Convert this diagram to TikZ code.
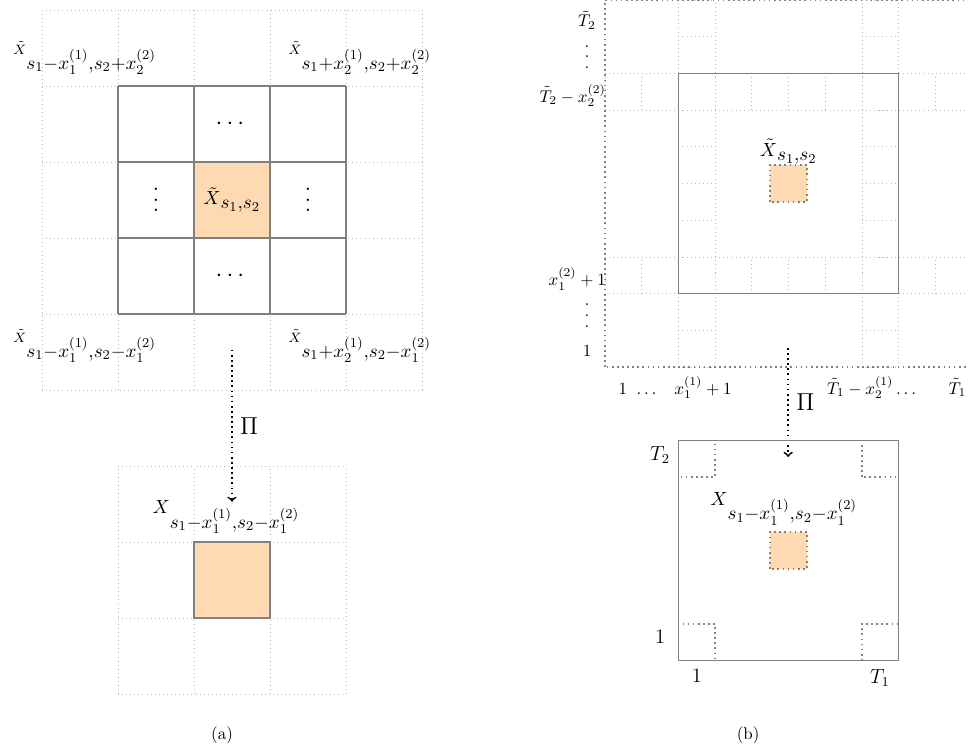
\RequirePackage{fix-cm}
\documentclass[tikz,border=0pt]{standalone}
\usepackage{amsmath}
\newcommand{\tallvdots}{\vbox{\baselineskip6.3pt\lineskiplimit0pt\hbox{.}\hbox{.}\hbox{.}}}
\newcommand{\lowsub}{\rule{0pt}{14.3pt}}
\begin{document}
\begin{tikzpicture}[
  lightgrid/.style={draw=gray!55, dotted, line width=0.4pt},
  solidgrid/.style={draw=gray, line width=1pt},
  heavydots/.style={draw=gray, dotted, line width=1pt},
  cellfill/.style={fill=orange!30},
  proj/.style={->, dotted, line width=1pt},
  biglabel/.style={font=\Large},
  mathlabel/.style={font=\fontsize{16}{19}\selectfont},
  sublabel/.style={mathlabel, inner sep=0pt, anchor=base west},
  axlabel/.style={font=\normalsize, inner sep=1pt}
]
  \useasboundingbox (0, 0) rectangle (20, -15.558);

  % (a) extended window
  \begin{scope}[shift={(0.868cm, -8.058cm)}, x=1.57cm, y=1.57cm]
    \fill[cellfill] (2, 2) rectangle (3, 3);
    \draw[lightgrid, step=1] (0, 0) grid (5, 5);
    \draw[solidgrid, step=1] (1, 1) grid (4, 4);
    \draw (2.5, 2.5) node[mathlabel, anchor=center] (xa) {${\scriptstyle\tilde{X}}_{s_1,s_2}$};
    \draw (2.5, 3.5) node[biglabel, anchor=center] (dotsa1) {$\cdots$};
    \draw (2.5, 1.5) node[biglabel, anchor=center] (dotsa2) {$\cdots$};
    \draw (1.5, 2.5) node[biglabel, anchor=center] (vdotsa1) {\tallvdots};
    \draw (3.5, 2.5) node[biglabel, anchor=center] (vdotsa2) {\tallvdots};

    % corner labels
    \draw (-0.38, 4.42) node[sublabel] (tl) {${\scriptscriptstyle\tilde{X}}_{\lowsub s_1-x_1^{(1)},s_2+x_2^{(2)}}$};
    \draw (3.24, 4.42) node[sublabel] (tr) {${\scriptscriptstyle\tilde{X}}_{\lowsub s_1+x_2^{(1)},s_2+x_2^{(2)}}$};
    \draw (-0.38, 0.63) node[sublabel] (bl) {${\scriptscriptstyle\tilde{X}}_{\lowsub s_1-x_1^{(1)},s_2-x_1^{(2)}}$};
    \draw (3.24, 0.63) node[sublabel] (br) {${\scriptscriptstyle\tilde{X}}_{\lowsub s_1+x_2^{(1)},s_2-x_1^{(2)}}$};

    % projection
    \coordinate (pia1) at (2.5, 0.53);
    \coordinate (pia2) at (2.5, -1.47);
    \draw[proj] (pia1) -- node[right=1pt, biglabel] (pia) {$\Pi$} (pia2);

    % (a) projected window
    \draw[lightgrid, step=1] (1, -4) grid (4, -1);
    \draw[cellfill, solidgrid] (2, -3) rectangle (3, -2);
    \draw (1.45, -1.62) node[sublabel] (xpa) {${\scriptstyle X}_{\lowsub s_1-x_1^{(1)},s_2-x_1^{(2)}}$};

    \draw (2.37, -4.54) node[anchor=center] (capa) {(a)};
  \end{scope}

  % (b) whole extended series
  \begin{scope}[shift={(12.50cm, -7.583cm)}, x=0.7583cm, y=0.7583cm]
    \draw[lightgrid, step=1] (0, 2) grid (10, 3);
    \draw[lightgrid, step=1] (0, 7) grid (10, 8);
    \draw[lightgrid, step=1] (2, 0) grid (3, 10);
    \draw[lightgrid, step=1] (7, 0) grid (8, 10);
    \draw[heavydots] (0, 0) rectangle (10, 10);
    \draw[solidgrid] (2, 2) rectangle (8, 8);
    \draw[cellfill, heavydots] (4.5, 4.5) rectangle (5.5, 5.5);
    \draw (5, 5.86) node[mathlabel, anchor=center] (xb) {${\scriptstyle\tilde{X}}_{s_1,s_2}$};

    % axis labels
    \draw (-0.49, 9.45) node[axlabel] (t2) {$\tilde{T}_2$};
    \draw (-0.49, 8.45) node[axlabel] (vd1) {\tallvdots};
    \draw (0.08, 7.4) node[axlabel, anchor=east] (t2x) {$\tilde{T}_2 - x_2^{(2)}$};
    \draw (0.08, 2.4) node[axlabel, anchor=east] (x2p) {$x_1^{(2)} + 1$};
    \draw (-0.49, 1.4) node[axlabel] (vd2) {\tallvdots};
    \draw (-0.49, 0.44) node[axlabel] (one2) {$1$};
    \draw (0.49, -0.74) node[axlabel, anchor=base] (one1) {$1$};
    \draw (1.17, -0.74) node[axlabel, anchor=base] (dd1) {$\dots$};
    \draw (2.67, -0.74) node[axlabel, anchor=base] (x1p) {$x_1^{(1)} + 1$};
    \draw (7.3, -0.74) node[axlabel, anchor=base] (t1x) {$\tilde{T}_1 - x_2^{(1)}\dots$};
    \draw (9.6, -0.74) node[axlabel, anchor=base] (t1) {$\tilde{T}_1$};

    % projection
    \coordinate (pib1) at (4.99, 0.52);
    \coordinate (pib2) at (4.99, -2.45);
    \draw[proj] (pib1) -- node[right=1pt, biglabel] (pib) {$\Pi$} (pib2);

    % (b) original series
    \draw[solidgrid] (2, -8) rectangle (8, -2);
    \draw[heavydots] (2, -3) rectangle (3, -2);
    \draw[heavydots] (7, -3) rectangle (8, -2);
    \draw[heavydots] (2, -8) rectangle (3, -7);
    \draw[heavydots] (7, -8) rectangle (8, -7);
    \draw[cellfill, heavydots] (4.5, -5.5) rectangle (5.5, -4.5);
    \draw (2.86, -3.76) node[sublabel] (xpb) {${\scriptstyle X}_{\lowsub s_1-x_1^{(1)},s_2-x_1^{(2)}}$};
    \draw (1.5, -2.4) node[font=\large, anchor=center] (T2) {$T_2$};
    \draw (1.5, -7.36) node[font=\large, anchor=center] (oneb2) {$1$};
    \draw (2.5, -8.42) node[font=\large, anchor=center] (oneb1) {$1$};
    \draw (7.49, -8.47) node[font=\large, anchor=center] (T1) {$T_1$};

    \draw (3.9, -10.03) node[anchor=center] (capb) {(b)};
  \end{scope}
\end{tikzpicture}
\end{document}
